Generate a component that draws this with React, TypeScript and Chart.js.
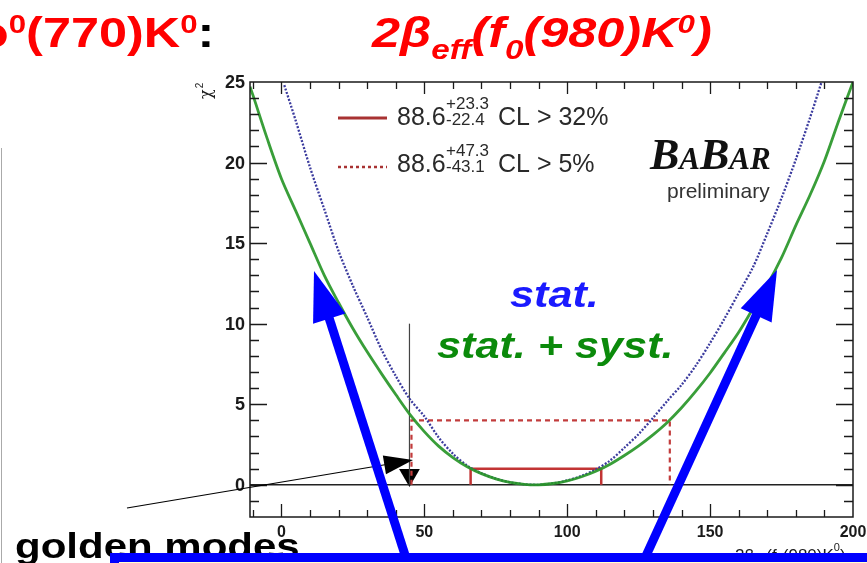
import React, { useEffect, useRef } from 'react';
import { Chart, registerables } from 'chart.js';

Chart.register(...registerables);

// ---- data ----
// chi2 scan, stat. + syst. (green solid)
const statSystX = [-11, -10, -5, 0, 5, 10, 15, 20, 25, 30, 35, 40, 45, 50, 55, 60, 65, 70, 75, 80, 85, 90, 95, 100, 105, 110, 115, 120, 125, 130, 135, 140, 145, 150, 155, 160, 165, 170, 175, 180, 185, 190, 195, 200];
const statSystChi2 = [24.7, 24.2, 21.5, 19.0, 17.0, 15.0, 13.0, 11.3, 9.7, 8.25, 6.9, 5.6, 4.35, 3.3, 2.4, 1.69, 1.12, 0.69, 0.37, 0.15, 0.03, 0.0, 0.08, 0.24, 0.5, 0.84, 1.28, 1.82, 2.42, 3.1, 3.87, 4.78, 5.81, 6.94, 8.19, 9.47, 10.94, 12.4, 14.1, 16.1, 18.0, 20.1, 22.6, 25.0];

// chi2 scan, stat. only (blue dotted)
const statX = [1, 5, 10, 15, 20, 25, 30, 35, 40, 45, 50, 55, 60, 65, 70, 75, 80, 85, 90, 95, 100, 105, 110, 115, 120, 125, 130, 135, 140, 145, 150, 155, 160, 165, 170, 175, 180, 185, 189];
const statChi2 = [24.8, 22.6, 19.7, 17.1, 14.5, 12.35, 10.4, 8.4, 6.75, 5.3, 4.25, 2.94, 1.93, 1.19, 0.71, 0.38, 0.15, 0.03, 0.0, 0.08, 0.27, 0.55, 0.95, 1.5, 2.3, 3.15, 4.15, 5.2, 6.2, 7.4, 8.8, 10.3, 11.9, 13.5, 15.6, 17.8, 20.2, 22.8, 25.0];

// confidence intervals: 88.6 +23.3 -22.4 (CL>32%), 88.6 +47.3 -43.1 (CL>5%)
const centralValue = 88.6;
const cl32Errors = [22.4, 23.3];
const cl5Errors = [43.1, 47.3];
const cl32Chi2 = 1;
const cl5Chi2 = 4;

// golden-mode marker
const goldenValue = 44.8;
const goldenTop = 10;

// axes
const X_MIN = -11;
const X_MAX = 200;
const Y_MIN = -2;
const Y_MAX = 25;
const xTickValues = [0, 50, 100, 150, 200];
const xTickLabels = ['0', '50', '100', '150', '200'];
const yTickValues = [0, 5, 10, 15, 20, 25];
const yTickLabels = ['0', '5', '10', '15', '20', '25'];

const SANS = '"Liberation Sans", Arial, sans-serif';
const SERIF = '"Liberation Serif", "Times New Roman", serif';

type Seg = { t: string; size: number; dy: number };

function drawSegs(ctx: CanvasRenderingContext2D, segs: Seg[], x: number, y: number, family: string, style = '') {
  let cx = x;
  for (const s of segs) {
    ctx.font = `${style} ${s.size}px ${family}`.trim();
    ctx.fillText(s.t, cx, y + s.dy);
    cx += ctx.measureText(s.t).width;
  }
}

function drawArrow(ctx: CanvasRenderingContext2D, x0: number, y0: number, x1: number, y1: number, lw: number, color: string, headLen: number, headW: number) {
  const dx = x1 - x0, dy = y1 - y0;
  const L = Math.hypot(dx, dy);
  const ux = dx / L, uy = dy / L;
  const nx = -uy, ny = ux;
  const bx = x1 - ux * headLen, by = y1 - uy * headLen;
  ctx.save();
  ctx.strokeStyle = color;
  ctx.fillStyle = color;
  ctx.lineWidth = lw;
  ctx.lineCap = 'butt';
  ctx.beginPath();
  ctx.moveTo(x0, y0);
  ctx.lineTo(bx + ux * 2, by + uy * 2);
  ctx.stroke();
  ctx.beginPath();
  ctx.moveTo(x1, y1);
  ctx.lineTo(bx + nx * headW / 2, by + ny * headW / 2);
  ctx.lineTo(bx - nx * headW / 2, by - ny * headW / 2);
  ctx.closePath();
  ctx.fill();
  ctx.restore();
}

const decorPlugin = {
  id: 'rootDecor',
  afterDatasetsDraw(chart: any) {
    const { ctx, chartArea: a, scales } = chart;
    const x = scales.x, y = scales.y;
    ctx.save();
    // frame
    ctx.strokeStyle = '#1a1a1a';
    ctx.lineWidth = 1.5;
    ctx.strokeRect(a.left, a.top, a.right - a.left, a.bottom - a.top);
    // ticks (inward)
    ctx.lineWidth = 1.3;
    ctx.beginPath();
    for (let v = Math.ceil(Y_MIN) + 1; v < Y_MAX; v++) {
      const py = Math.round(y.getPixelForValue(v)) + 0.5;
      const len = v % 5 === 0 ? 17 : 9;
      ctx.moveTo(a.left, py); ctx.lineTo(a.left + len, py);
      ctx.moveTo(a.right, py); ctx.lineTo(a.right - len, py);
    }
    for (let v = -10; v < X_MAX; v += 10) {
      const px = Math.round(x.getPixelForValue(v)) + 0.5;
      const major = v % 50 === 0;
      ctx.moveTo(px, a.bottom); ctx.lineTo(px, a.bottom - (major ? 13 : 7));
      ctx.moveTo(px, a.top); ctx.lineTo(px, a.top + (major ? 12 : 7));
    }
    ctx.stroke();

    // tick labels
    ctx.fillStyle = '#1a1a1a';
    ctx.font = `bold 18px ${SANS}`;
    ctx.textAlign = 'right';
    ctx.textBaseline = 'middle';
    yTickValues.forEach((v, i) => ctx.fillText(yTickLabels[i], a.left - 5, y.getPixelForValue(v) + 1));
    ctx.font = `bold 16px ${SANS}`;
    ctx.textAlign = 'center';
    ctx.textBaseline = 'top';
    xTickValues.forEach((v, i) => ctx.fillText(xTickLabels[i], x.getPixelForValue(v), a.bottom + 8));

    // y title chi^2 (rotated)
    ctx.save();
    ctx.translate(211, 99);
    ctx.rotate(-Math.PI / 2);
    ctx.textAlign = 'left';
    ctx.textBaseline = 'alphabetic';
    ctx.font = `16px "DejaVu Serif", serif`;
    ctx.fillText('χ', 0, 0);
    const wChi = ctx.measureText('χ').width;
    ctx.font = `10px ${SANS}`;
    ctx.fillText('2', wChi + 1, -8);
    ctx.restore();

    // x title (bottom right)
    ctx.textAlign = 'left';
    ctx.textBaseline = 'alphabetic';
    ctx.fillStyle = '#1a1a1a';
    drawSegs(ctx, [
      { t: '2β', size: 17, dy: 0 },
      { t: 'eff', size: 11, dy: 4 },
      { t: '(f', size: 17, dy: 0 },
      { t: '0', size: 11, dy: 4 },
      { t: '(980)K', size: 17, dy: 0 },
      { t: '0', size: 11, dy: -10 },
      { t: ')', size: 17, dy: 0 },
    ], 735, 561, SANS);

    // legend
    const lx0 = 338, lx1 = 387;
    ctx.strokeStyle = '#a83232';
    ctx.lineWidth = 3;
    ctx.setLineDash([]);
    ctx.beginPath(); ctx.moveTo(lx0, 118); ctx.lineTo(lx1, 118); ctx.stroke();
    ctx.lineWidth = 2.5;
    ctx.setLineDash([3, 3]);
    ctx.beginPath(); ctx.moveTo(lx0, 167); ctx.lineTo(lx1, 167); ctx.stroke();
    ctx.setLineDash([]);
    ctx.fillStyle = '#2a2a2a';
    const rows = [
      { base: 125, up: '+' + cl32Errors[1].toFixed(1), lo: '-' + cl32Errors[0].toFixed(1), cl: 'CL > 32%' },
      { base: 172, up: '+' + cl5Errors[1].toFixed(1), lo: '-' + cl5Errors[0].toFixed(1), cl: 'CL > 5%' },
    ];
    rows.forEach((r) => {
      ctx.font = `25px ${SANS}`;
      ctx.fillText(centralValue.toFixed(1), 397, r.base);
      ctx.font = `17px ${SANS}`;
      ctx.fillText(r.up, 446, r.base - 16);
      ctx.fillText(r.lo, 446, r.base);
      ctx.font = `25px ${SANS}`;
      ctx.fillText(r.cl, 498, r.base);
    });

    // BaBar logo (small caps, bold italic serif)
    ctx.fillStyle = '#111';
    drawSegs(ctx, [
      { t: 'B', size: 44, dy: 0 },
      { t: 'A', size: 31, dy: 0 },
      { t: 'B', size: 44, dy: 0 },
      { t: 'A', size: 31, dy: 0 },
      { t: 'R', size: 31, dy: 0 },
    ], 650, 169, SERIF, 'italic bold');

    // preliminary
    ctx.fillStyle = '#333';
    ctx.font = `21px ${SANS}`;
    ctx.fillText('preliminary', 667, 198);
    ctx.restore();
  },
  afterDraw(chart: any) {
    const ctx = chart.ctx;
    drawArrow(ctx, 127, 508, 413, 460, 1.2, '#000', 29, 19);
    drawArrow(ctx, 406, 558, 314, 271, 9, '#0000ff', 50, 34);
    drawArrow(ctx, 645, 558, 777, 270, 9, '#0000ff', 50, 34);
  },
};

export default function App() {
  const ref = useRef<HTMLCanvasElement | null>(null);

  useEffect(() => {
    if (!ref.current) return;
    const pts = (xs: number[], ys: number[]) => xs.map((x, i) => ({ x, y: ys[i] }));
    const cl32 = [centralValue - cl32Errors[0], centralValue + cl32Errors[1]];
    const cl5 = [centralValue - cl5Errors[0], centralValue + cl5Errors[1]];
    const chart = new Chart(ref.current, {
      type: 'scatter',
      data: {
        datasets: [
          {
            label: 'stat. + syst.',
            data: pts(statSystX, statSystChi2),
            showLine: true,
            borderColor: 'rgba(40,150,40,0.92)',
            borderWidth: 2.8,
            pointRadius: 0,
            tension: 0.3,
          },
          {
            label: 'stat.',
            data: pts(statX, statChi2),
            showLine: true,
            borderColor: '#3b3b9e',
            borderWidth: 2.3,
            borderDash: [2, 1.6],
            pointRadius: 0,
            tension: 0.3,
          },
          {
            label: 'CL > 32%',
            data: [{ x: cl32[0], y: 0 }, { x: cl32[0], y: cl32Chi2 }, { x: cl32[1], y: cl32Chi2 }, { x: cl32[1], y: 0 }],
            showLine: true,
            borderColor: '#c23434',
            borderWidth: 2.5,
            pointRadius: 0,
            tension: 0,
          },
          {
            label: 'CL > 5%',
            data: [{ x: cl5[0], y: 0 }, { x: cl5[0], y: cl5Chi2 }, { x: cl5[1], y: cl5Chi2 }, { x: cl5[1], y: 0 }],
            showLine: true,
            borderColor: '#c23c3c',
            borderWidth: 2.2,
            borderDash: [5, 4],
            pointRadius: 0,
            tension: 0,
          },
          {
            label: 'zero',
            data: [{ x: X_MIN, y: 0 }, { x: X_MAX, y: 0 }],
            showLine: true,
            borderColor: '#222',
            borderWidth: 1.5,
            pointRadius: 0,
          },
          {
            label: 'golden',
            data: [{ x: goldenValue, y: 0 }, { x: goldenValue, y: goldenTop }],
            showLine: true,
            borderColor: '#444',
            borderWidth: 1.2,
            pointRadius: 0,
          },
          {
            label: 'golden tip',
            data: [{ x: goldenValue, y: 0.6 }],
            showLine: false,
            pointStyle: 'triangle',
            rotation: 180,
            pointRadius: 12,
            backgroundColor: '#000',
            borderColor: '#000',
            borderWidth: 0,
          },
        ],
      },
      options: {
        animation: false,
        responsive: false,
        devicePixelRatio: 1,
        layout: { padding: { left: 250, right: 14, top: 82, bottom: 46 } },
        plugins: { legend: { display: false }, tooltip: { enabled: false } },
        scales: {
          x: { type: 'linear', min: X_MIN, max: X_MAX, display: false },
          y: { type: 'linear', min: Y_MIN, max: Y_MAX, display: false },
        },
      },
      plugins: [decorPlugin],
    } as any);
    return () => chart.destroy();
  }, []);

  const slideText: React.CSSProperties = {
    position: 'absolute',
    whiteSpace: 'nowrap',
    fontFamily: SANS,
    fontWeight: 'bold',
    transformOrigin: 'left top',
  };

  return (
    <div style={{ position: 'absolute', left: 0, top: 0, width: 867, height: 563, overflow: 'hidden', background: '#fff' }}>
      <canvas ref={ref} width={867} height={563} style={{ position: 'absolute', left: 0, top: 0 }} />
      <div style={{ position: 'absolute', left: 1, top: 148, width: 1, height: 415, background: '#aaa' }} />
      <div style={{ ...slideText, right: 653, top: 12, fontSize: 42, lineHeight: '42px', color: '#ff0000', transform: 'scaleX(1.2)', transformOrigin: 'right top' }}>
        ρ<span style={{ fontSize: '0.62em', position: 'relative', top: -14 }}>0</span>(770)K<span style={{ fontSize: '0.62em', position: 'relative', top: -14 }}>0</span><span style={{ color: '#000' }}>:</span>
      </div>
      <div style={{ ...slideText, left: 372, top: 12, fontSize: 42, lineHeight: '42px', fontStyle: 'italic', color: '#ff0000', transform: 'scaleX(1.2)' }}>
        2β<span style={{ fontSize: '0.66em', position: 'relative', top: 12 }}>eff</span>(f<span style={{ fontSize: '0.66em', position: 'relative', top: 12 }}>0</span>(980)K<span style={{ fontSize: '0.62em', position: 'relative', top: -14 }}>0</span>)
      </div>
      <div style={{ ...slideText, left: 510, top: 277, fontSize: 36, lineHeight: '36px', fontStyle: 'italic', color: '#1a1aff', transform: 'scaleX(1.2)' }}>stat.</div>
      <div style={{ ...slideText, left: 437, top: 328, fontSize: 36, lineHeight: '36px', fontStyle: 'italic', color: '#0b8a0b', transform: 'scaleX(1.2)' }}>stat. + syst.</div>
      <div style={{ ...slideText, left: 15, top: 528, fontSize: 35, lineHeight: '35px', color: '#000', transform: 'scaleX(1.2)' }}>golden modes</div>
      <div style={{ position: 'absolute', left: 110, top: 553, width: 800, height: 40, boxSizing: 'border-box', border: '9px solid #0000ff', background: '#ffffd0' }} />
    </div>
  );
}
